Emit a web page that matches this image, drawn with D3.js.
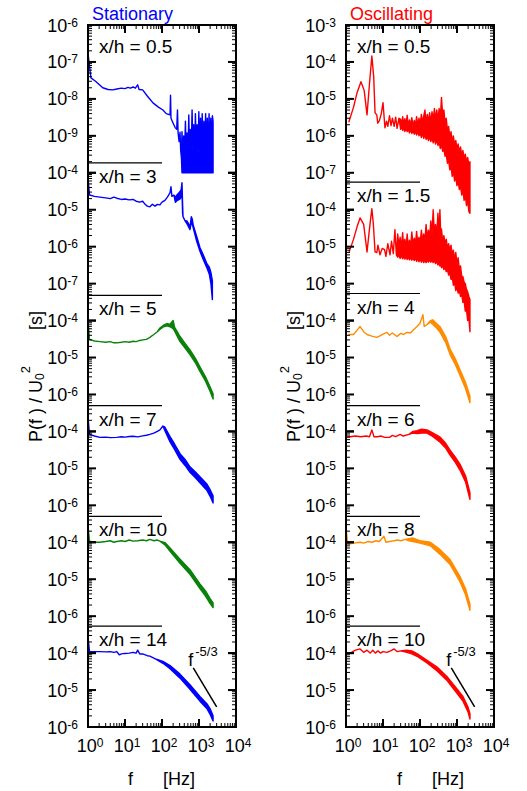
<!DOCTYPE html>
<html>
<head>
<meta charset="utf-8">
<title>Spectra, stationary vs oscillating</title>
<script src="https://cdn.jsdelivr.net/npm/d3@7/dist/d3.min.js"></script>
<style>
  body { margin: 0; background: #fff; }
  text { font-family: "Liberation Sans", Arial, Helvetica, sans-serif; fill: #000; }
</style>
</head>
<body>
<script>

// ---- data ----
// each point: [f (Hz), P/U0^2 (s)] or [f, lower, upper] where the trace is a noisy band

var freqDomain = [1, 1e4];

// panel decades: exponent at top of each sub-panel and number of decades it spans
var statTopExp = [-6, -4, -4, -4, -4, -4];
var statSpan   = [4, 4, 3, 3, 3, 2];
var oscTopExp  = [-3, -4, -4, -4, -4, -4];
var oscSpan    = [5, 3, 3, 3, 3, 2];

var statXH = ["0.5", "3", "5", "7", "10", "14"];
var oscXH  = ["0.5", "1.5", "4", "6", "8", "10"];

// level of the short divider under each panel (in that panel's units)
var statSep = [1.85e-10, 4.8e-8, 5e-7, 5e-7, 5.4e-7];
var oscSep  = [5.6e-8, 5.4e-7, 5e-7, 5e-7, 5.4e-7];

// f^-5/3 reference line, bottom panel
var slopeLine = [[700, 4e-5], [3000, 3.5e-6]];

var stat05 = [[1, 1.7e-7], [1.2, 3.7e-8], [1.6, 3.0e-8], [2.5, 2.0e-8], [3.5, 1.8e-8], [4.7, 1.75e-8],
  [6, 1.85e-8], [8, 1.95e-8], [10, 1.9e-8], [12, 2.05e-8], [14, 1.95e-8], [16.5, 2.1e-8], [19, 1.95e-8],
  [22, 2.4e-8], [24, 1.8e-8], [30, 1.75e-8], [40, 1.2e-8], [57, 7.8e-9], [80, 6.0e-9], [106, 5.0e-9],
  [130, 4.0e-9], [165, 3.7e-9], [170, 1.25e-8], [175, 3.0e-9], [200, 2.2e-9], [225, 1.7e-9], [250, 1.5e-9],
  [262, 5e-9], [272, 1.2e-9], [290, 7e-10], [307, 1.25e-9], [320, 4e-10], [335, 2.5e-10],
  [347, 1e-10, 1.3e-9], [365, 1e-10, 2e-10], [385, 1e-10, 1.0e-9], [405, 1e-10, 2.5e-10], [430, 1e-10, 2.5e-9],
  [450, 1e-10, 3e-10], [475, 1e-10, 1.2e-9], [500, 1e-10, 2.5e-10], [530, 1e-10, 3.7e-9], [555, 1e-10, 3e-10],
  [585, 1e-10, 1.5e-9], [615, 1e-10, 3e-10], [650, 1e-10, 5e-9], [685, 1e-10, 4e-10], [720, 1e-10, 2e-9],
  [760, 1e-10, 3e-10], [800, 1e-10, 4e-9], [845, 1e-10, 4e-10], [890, 1e-10, 2e-9], [940, 1e-10, 3e-10],
  [990, 1e-10, 4.5e-9], [1040, 1e-10, 4e-10], [1100, 1e-10, 3e-9], [1160, 1e-10, 3e-10], [1220, 1e-10, 4e-9],
  [1290, 1e-10, 4e-10], [1360, 1e-10, 2.5e-9], [1430, 1e-10, 3e-10], [1510, 1e-10, 4e-9], [1590, 1e-10, 4e-10],
  [1680, 1e-10, 3e-9], [1770, 1e-10, 3e-10], [1870, 1e-10, 4e-9], [1970, 1e-10, 4e-10], [2080, 1e-10, 3e-9],
  [2190, 1e-10, 3e-10], [2300, 1e-10, 3.5e-9], [2400, 1e-10, 2.5e-9]];

var stat3 = [[1, 7.2e-5], [1.1, 2.5e-5], [1.5, 2.3e-5], [2.1, 2.2e-5], [3, 2.1e-5], [4, 2.0e-5], [5, 2.2e-5],
  [6, 2.05e-5], [8, 1.9e-5], [10, 1.95e-5], [13, 1.85e-5], [16.5, 1.9e-5], [20, 1.7e-5], [25, 1.6e-5],
  [30, 1.7e-5], [35, 1.4e-5], [40, 1.25e-5], [47, 1.2e-5], [55, 1.4e-5], [65, 1.25e-5], [75, 1.4e-5],
  [88, 1.35e-5], [100, 1.6e-5], [120, 1.8e-5], [140, 2.2e-5], [165, 2.9e-5], [175, 4.2e-5], [185, 2.3e-5],
  [210, 2.5e-5], [230, 1.6e-5, 2.2e-5], [260, 1.8e-5, 2.6e-5], [300, 1.9e-5, 3e-5], [330, 2.2e-5, 3.5e-5],
  [347, 3e-5, 5.4e-5], [360, 8e-6, 1.5e-5], [370, 6.5e-6], [420, 5e-6], [470, 4.2e-6, 5e-6],
  [520, 3.5e-6, 4.2e-6], [570, 2.9e-6, 3.4e-6], [620, 4.5e-6, 6.5e-6], [660, 4e-6, 5.5e-6],
  [700, 3.2e-6, 3.8e-6], [850, 1.5e-6, 2e-6], [1060, 7.5e-7, 9.5e-7], [1300, 4.5e-7, 6e-7],
  [1650, 2.6e-7, 3.4e-7], [1900, 1.8e-7, 2.8e-7], [2100, 1e-7, 2e-7], [2300, 3.7e-8, 1.2e-7]];

var stat5 = [[1, 1.0e-4], [1.1, 3.1e-5], [1.5, 2.8e-5], [2.1, 2.7e-5], [3, 2.6e-5], [4, 2.7e-5], [5, 2.5e-5],
  [6, 2.5e-5], [8, 2.6e-5], [10, 2.7e-5], [13, 2.6e-5], [16.5, 2.75e-5], [20, 2.7e-5], [25, 2.9e-5],
  [30, 3.0e-5], [38, 3.1e-5], [47, 3.5e-5], [60, 4.2e-5], [75, 5e-5], [88, 5.8e-5, 6.3e-5],
  [110, 6.8e-5, 7.5e-5], [136, 7.2e-5, 8.3e-5], [165, 6.8e-5, 8e-5], [200, 6e-5, 1.0e-4],
  [220, 5.2e-5, 6.6e-5], [307, 2.7e-5, 3.7e-5], [420, 1.8e-5, 2.4e-5], [570, 1.2e-5, 1.6e-5],
  [800, 7.2e-6, 9.5e-6], [1060, 4.2e-6, 5.6e-6], [1500, 2.3e-6, 3.0e-6], [2000, 1.2e-6, 1.6e-6],
  [2400, 7.5e-7, 1.05e-6]];

var stat7 = [[1, 2.4e-4], [1.1, 8.3e-5], [1.5, 7.5e-5], [2.1, 6.9e-5], [3, 7e-5], [4, 6.8e-5], [6, 6.9e-5],
  [8, 7.2e-5], [10, 7e-5], [13, 7.3e-5], [16.5, 7.4e-5], [22, 7.1e-5], [30, 7.6e-5], [38, 7.9e-5],
  [47, 8.3e-5], [60, 9e-5], [75, 1.0e-4], [88, 1.1e-4], [106, 1.4e-4], [120, 1.05e-4, 1.3e-4],
  [165, 5.2e-5, 7.2e-5], [220, 3.2e-5, 4.5e-5], [307, 1.75e-5, 2.5e-5], [420, 1.2e-5, 1.75e-5],
  [570, 7.8e-6, 1.1e-5], [800, 5.6e-6, 8e-6], [1060, 4.1e-6, 5.9e-6], [1650, 2.5e-6, 3.7e-6],
  [2000, 1.75e-6, 2.65e-6], [2400, 1.15e-6, 1.8e-6]];

var stat10 = [[1, 2.7e-4], [1.1, 1.07e-4], [1.5, 1.0e-4], [2.1, 1.0e-4], [3, 1.05e-4], [4, 1.1e-4], [5, 1.0e-4],
  [6, 1.05e-4], [8, 1.1e-4], [10, 1.05e-4], [13, 1.15e-4], [16.5, 1.07e-4], [22, 1.1e-4], [30, 1.15e-4],
  [38, 1.1e-4], [47, 1.2e-4], [60, 1.1e-4], [75, 1.15e-4], [88, 1.07e-4], [120, 8.5e-5, 9.8e-5],
  [165, 5.7e-5, 7e-5], [307, 2.7e-5, 3.5e-5], [570, 1.35e-5, 1.8e-5], [1060, 5.6e-6, 7.5e-6],
  [1500, 3.5e-6, 4.8e-6], [2000, 2.2e-6, 3.0e-6], [2400, 1.7e-6, 2.3e-6]];

var stat14 = [[1, 2.7e-4], [1.1, 1.1e-4], [1.5, 1.1e-4], [2.1, 1.1e-4], [3, 1.08e-4], [4, 1.1e-4], [5, 1.05e-4],
  [6, 1.1e-4], [7, 9.0e-5], [8, 9.5e-5], [10, 9.8e-5], [13, 1.0e-4], [16.5, 1.05e-4], [20, 1.0e-4],
  [22, 1.2e-4], [25, 9.5e-5], [30, 9.5e-5], [40, 8.5e-5], [47, 8.3e-5], [70, 6.8e-5], [106, 5.3e-5, 6e-5],
  [165, 3.8e-5, 4.6e-5], [307, 2.1e-5, 2.7e-5], [570, 1.05e-5, 1.4e-5], [1060, 5e-6, 6.7e-6],
  [1650, 3.1e-6, 4.2e-6], [2000, 2.2e-6, 3.1e-6], [2400, 1.45e-6, 2.0e-6]];

var osc05 = [[1.2, 2.4e-6], [1.6, 6e-6], [2.0, 1.5e-5], [2.54, 2.9e-5], [3.1, 1.7e-5], [3.7, 3.7e-6],
  [4.3, 2.5e-5], [5.0, 1.45e-4], [5.6, 4e-5], [6.1, 4.2e-6], [6.8, 3.7e-6], [7.2, 2.2e-6], [8, 2.6e-6],
  [9, 4e-6], [10, 7.9e-6], [11.3, 1.66e-6], [12.5, 2.5e-6], [13.5, 1.8e-6], [15, 3.5e-6], [16.5, 1.9e-6],
  [18, 3.0e-6], [20, 1.8e-6], [22, 3.2e-6], [24, 1.6e-6], [27, 3.0e-6],
  [30, 1.5e-6, 2.8e-6], [32, 1.8e-6, 2.0e-6], [34, 1.4e-6, 3.3e-6], [36, 1.7e-6, 2.1e-6], [39, 1.3e-6, 2.9e-6],
  [42, 1.6e-6, 2.0e-6], [45, 1.3e-6, 3.6e-6], [48, 1.5e-6, 1.9e-6], [52, 1.2e-6, 2.7e-6], [56, 1.5e-6, 1.9e-6],
  [60, 1.15e-6, 3.1e-6], [65, 1.4e-6, 1.8e-6], [70, 1.1e-6, 2.6e-6], [75, 1.35e-6, 1.9e-6], [81, 1.05e-6, 3.3e-6],
  [87, 1.3e-6, 1.8e-6], [94, 1.0e-6, 3.0e-6], [101, 1.2e-6, 2.0e-6], [109, 9e-7, 3.8e-6], [117, 1.2e-6, 2.2e-6],
  [126, 8.5e-7, 3.4e-6], [136, 1.1e-6, 5.0e-6], [146, 8e-7, 2.2e-6], [157, 1.0e-6, 3.8e-6], [169, 7.5e-7, 2.4e-6],
  [182, 9.5e-7, 4.2e-6], [196, 7e-7, 2.2e-6], [211, 9e-7, 4.5e-6], [227, 6.5e-7, 2.5e-6], [245, 8.5e-7, 5.5e-6],
  [263, 6e-7, 2.8e-6], [284, 8e-7, 5.0e-6], [305, 5.5e-7, 2.6e-6], [329, 7e-7, 5.5e-6], [354, 4.5e-7, 3.0e-6],
  [381, 6e-7, 1.1e-5], [410, 3.8e-7, 3.5e-6], [442, 4.5e-7, 5.0e-6], [476, 2.8e-7, 2.2e-6], [512, 3.2e-7, 3.0e-6],
  [552, 1.8e-7, 1.4e-6], [594, 2.2e-7, 1.8e-6], [640, 1.2e-7, 9e-7], [689, 1.5e-7, 1.3e-6], [742, 8e-8, 7e-7],
  [799, 1.1e-7, 1.0e-6], [860, 6e-8, 5.5e-7], [926, 8e-8, 7.5e-7], [997, 4.5e-8, 4.5e-7], [1074, 6e-8, 6e-7],
  [1156, 3.5e-8, 3.5e-7], [1245, 4.5e-8, 5e-7], [1341, 2.5e-8, 3e-7], [1444, 3.5e-8, 4e-7],
  [1555, 1.8e-8, 2.5e-7], [1674, 2.5e-8, 3.2e-7], [1803, 1.3e-8, 2e-7], [1941, 1.8e-8, 2.6e-7],
  [2090, 9e-9, 1.6e-7], [2240, 8e-9, 2e-7]];

var osc15 = [[1.2, 6.9e-6], [1.6, 1.6e-5], [2.0, 3.5e-5], [2.4, 6e-5], [3.0, 4e-5], [3.7, 7.2e-6], [4.3, 3e-5],
  [5.0, 1.07e-4], [5.5, 4e-5], [6.1, 7.2e-6], [6.8, 6.9e-6], [7.3, 1.1e-5], [8.3, 6e-6], [9.5, 9e-6],
  [11, 8.3e-6], [12, 5.5e-6], [13.5, 1.2e-5], [15.5, 6e-6], [17, 1.4e-5], [19, 6.5e-6], [21, 2.9e-5],
  [23, 6e-6], [25, 5.2e-6, 2.2e-5], [27, 6e-6, 1.0e-5], [29, 4.8e-6, 1.8e-5], [31, 5.8e-6, 9e-6],
  [34, 4.7e-6, 2.4e-5], [36, 5.6e-6, 1.0e-5], [39, 4.6e-6, 1.6e-5], [42, 5.5e-6, 9e-6], [45, 4.5e-6, 2.2e-5],
  [48, 5.3e-6, 1.0e-5], [52, 4.4e-6, 1.5e-5], [56, 5.2e-6, 1.0e-5], [60, 4.3e-6, 2.5e-5], [65, 5e-6, 1.1e-5],
  [70, 4.2e-6, 1.7e-5], [75, 5e-6, 1.1e-5], [81, 4.0e-6, 2.6e-5], [87, 4.8e-6, 1.2e-5], [94, 3.9e-6, 1.8e-5],
  [101, 4.6e-6, 1.2e-5], [109, 3.8e-6, 2.8e-5], [117, 4.5e-6, 1.4e-5], [126, 3.7e-6, 2.2e-5],
  [136, 4.4e-6, 1.5e-5], [146, 3.7e-6, 4e-5], [157, 4.4e-6, 1.6e-5], [169, 3.8e-6, 2.8e-5],
  [182, 4.4e-6, 1.7e-5], [196, 3.8e-6, 5e-5], [211, 4.3e-6, 2e-5], [227, 3.7e-6, 1.0e-4], [245, 4.2e-6, 2.2e-5],
  [263, 3.5e-6, 4e-5], [284, 4e-6, 2e-5], [305, 3.2e-6, 8e-5], [329, 3.8e-6, 2e-5], [345, 3e-6, 1.0e-4],
  [365, 3.4e-6, 1.8e-5], [381, 2.7e-6, 3e-5], [410, 3e-6, 1.4e-5], [442, 2.4e-6, 2e-5], [476, 2.8e-6, 1.2e-5],
  [512, 2.1e-6, 1.6e-5], [552, 2.4e-6, 9e-6], [594, 1.7e-6, 1.2e-5], [640, 2e-6, 8e-6], [689, 1.3e-6, 1.1e-5],
  [742, 1.5e-6, 6e-6], [799, 9e-7, 8e-6], [860, 1.1e-6, 4.5e-6], [926, 6.5e-7, 7e-6], [997, 8e-7, 3.5e-6],
  [1074, 5.5e-7, 5e-6], [1156, 6.5e-7, 2.5e-6], [1245, 4.5e-7, 3e-6], [1341, 5e-7, 1.6e-6],
  [1444, 3.1e-7, 1.55e-6], [1555, 3.5e-7, 1.1e-6], [1674, 1.8e-7, 1.0e-6], [1803, 2e-7, 7e-7],
  [1941, 1e-7, 6e-7], [2090, 1.2e-7, 4.5e-7], [2240, 5e-8, 3.7e-7]];

var osc4 = [[1.2, 4.2e-5], [1.6, 4.2e-5], [2.0, 5.5e-5], [2.4, 6.9e-5], [3.0, 5e-5], [3.7, 4.2e-5], [5, 3.8e-5],
  [6.8, 3.5e-5], [8, 3.8e-5], [10, 4.3e-5], [12.8, 4.8e-5], [15, 4e-5], [18, 4.6e-5], [24, 3.7e-5],
  [30, 4.5e-5], [36, 4.2e-5], [44, 4.8e-5], [55, 4.6e-5], [65, 5.5e-5], [83, 6.9e-5], [100, 8.5e-5],
  [120, 1.45e-4], [130, 6.9e-5], [160, 8e-5], [190, 9e-5, 1.0e-4], [220, 8e-5, 1.05e-4],
  [280, 6.3e-5, 8.3e-5], [350, 4.8e-5, 6.8e-5], [500, 2.5e-5, 3.6e-5], [650, 1.2e-5, 1.7e-5],
  [900, 6.5e-6, 9.2e-6], [1200, 3.3e-6, 4.7e-6], [1700, 1.45e-6, 2.1e-6], [2240, 6e-7, 9e-7]];

var osc6 = [[1.0, 7.2e-5], [1.3, 7.2e-5], [1.8, 7.5e-5], [2.5, 7.2e-5], [3.5, 7.5e-5], [4.3, 7.2e-5],
  [5, 1.1e-4], [5.7, 7.2e-5], [7, 7.2e-5], [9, 7.5e-5], [11, 6.9e-5], [15, 6.9e-5], [18, 7.8e-5],
  [22, 7.2e-5], [29, 8.3e-5], [35, 7.5e-5], [50, 8.3e-5], [65, 9e-5, 1.0e-4], [83, 8.8e-5, 1.05e-4],
  [110, 9e-5, 1.15e-4], [155, 9e-5, 1.1e-4], [220, 7.3e-5, 9.2e-5], [350, 5.1e-5, 7e-5],
  [500, 3.5e-5, 4.7e-5], [650, 2.3e-5, 3.1e-5], [900, 1.45e-5, 2e-5], [1200, 9e-6, 1.3e-5],
  [1700, 4.3e-6, 6.3e-6], [2240, 1.45e-6, 2.2e-6]];

var osc8 = [[1.0, 2.6e-4], [1.1, 1.0e-4], [1.2, 9e-5], [1.6, 9.5e-5], [2.4, 1.0e-4], [3, 9.5e-5], [4, 1.05e-4],
  [5, 1.0e-4], [6.5, 1.1e-4], [8, 1.05e-4], [10.6, 1.45e-4], [12, 1.0e-4], [15, 1.05e-4], [20, 1.1e-4],
  [25, 1.15e-4], [30, 1.1e-4], [40, 1.2e-4], [50, 1.1e-4, 1.25e-4], [65, 1.05e-4, 1.3e-4],
  [80, 1.0e-4, 1.2e-4], [100, 9.5e-5, 1.1e-4], [190, 8e-5, 1.0e-4], [350, 4.7e-5, 6.3e-5],
  [650, 2.5e-5, 3.4e-5], [1200, 8.6e-6, 1.2e-5], [1700, 3.8e-6, 5.5e-6], [2240, 1.45e-6, 2.1e-6]];

var osc10 = [[1.0, 9.3e-5], [1.4, 1.05e-4], [1.8, 1.2e-4], [2.4, 1.3e-4], [3.0, 1.05e-4], [3.7, 1.2e-4],
  [4.5, 1.0e-4], [5.3, 1.2e-4], [6.2, 1.0e-4], [7.3, 1.15e-4], [8.5, 1.0e-4], [10, 1.1e-4], [12.8, 1.05e-4],
  [16, 1.15e-4], [20, 1.3e-4], [24, 1.1e-4], [30, 1.15e-4], [44, 1.05e-4, 1.2e-4], [60, 9.5e-5, 1.15e-4],
  [83, 8.2e-5, 9.7e-5], [155, 5.4e-5, 6.4e-5], [290, 3.3e-5, 4.2e-5], [540, 1.8e-5, 2.3e-5],
  [1000, 8.2e-6, 1.07e-5], [1450, 5e-6, 6.7e-6], [2000, 2.5e-6, 3.4e-6], [2240, 1.65e-6, 2.3e-6]];

// ---- layout ----
var width = 527, height = 791;
var plotTop = 25, plotBottom = 727, plotW = 148;

var BLUE = "#0000ff", GREEN = "#0a820a", RED = "#ff0000", ORANGE = "#ff8c00";

var columns = [
  { title: "Stationary", titleColor: BLUE, left: 88, ylabX: 41.5, fX: 128, hzX: 163,
    tops: statTopExp, spans: statSpan, names: statXH, seps: statSep,
    series: [stat05, stat3, stat5, stat7, stat10, stat14],
    colors: [BLUE, BLUE, GREEN, BLUE, GREEN, BLUE] },
  { title: "Oscillating", titleColor: RED, left: 346, ylabX: 300, fX: 397, hzX: 432,
    tops: oscTopExp, spans: oscSpan, names: oscXH, seps: oscSep,
    series: [osc05, osc15, osc4, osc6, osc8, osc10],
    colors: [RED, RED, ORANGE, RED, ORANGE, RED] }
];

var svg = d3.select('body')
  .append('svg')
  .attr('width', width)
  .attr('height', height);

function isDecade(v) {
  var l = Math.log10(v);
  return Math.abs(l - Math.round(l)) < 1e-6;
}

// "10" with a superscript exponent
function powText(sel, exp, supSize, supDy) {
  sel.append('tspan').text('10');
  sel.append('tspan').attr('font-size', supSize).attr('dy', supDy).text(exp);
}

columns.forEach(function(col, ci) {
  var x = d3.scaleLog().domain(freqDomain).range([col.left, col.left + plotW]);
  var nDec = d3.sum(col.spans);
  var pos = d3.scaleLinear().domain([0, nDec]).range([plotTop, plotBottom]);

  var acc = 0;
  var ys = col.spans.map(function(n, i) {
    var y = d3.scaleLog()
      .domain([Math.pow(10, col.tops[i]), Math.pow(10, col.tops[i] - n)])
      .range([pos(acc), pos(acc + n)]);
    acc += n;
    return y;
  });

  svg.append('clipPath').attr('id', 'clip' + ci)
    .append('rect')
    .attr('x', col.left).attr('y', plotTop)
    .attr('width', plotW).attr('height', plotBottom - plotTop);

  var curves = svg.append('g').attr('clip-path', 'url(#clip' + ci + ')');

  col.series.forEach(function(data, i) {
    var y = ys[i];
    var band = d3.area()
      .x(function(d) { return x(d[0]); })
      .y0(function(d) { return y(d[1]); })
      .y1(function(d) { return y(d.length > 2 ? d[2] : d[1]); });
    curves.append('path')
      .attr('d', band(data))
      .attr('fill', col.colors[i])
      .attr('stroke', col.colors[i])
      .attr('stroke-width', 1.4)
      .attr('stroke-linejoin', 'round');
  });

  // dividers and x/h labels
  col.names.forEach(function(name, i) {
    var baseY;
    if (i === 0) {
      baseY = plotTop + 28;
    } else {
      var sy = ys[i - 1](col.seps[i - 1]);
      svg.append('line')
        .attr('x1', x(1)).attr('x2', x(100))
        .attr('y1', sy).attr('y2', sy)
        .attr('stroke', '#000').attr('stroke-width', 1.2);
      baseY = sy + 20;
    }
    svg.append('text')
      .attr('x', col.left + 11).attr('y', baseY)
      .attr('font-size', 19)
      .text('x/h = ' + name);
  });

  // f^-5/3 line in bottom panel
  var yb = ys[ys.length - 1];
  var p0 = [x(slopeLine[0][0]), yb(slopeLine[0][1])];
  var p1 = [x(slopeLine[1][0]), yb(slopeLine[1][1])];
  svg.append('line')
    .attr('x1', p0[0]).attr('y1', p0[1]).attr('x2', p1[0]).attr('y2', p1[1])
    .attr('stroke', '#000').attr('stroke-width', 1.5);
  var ft = svg.append('text').attr('x', p0[0] - 5).attr('y', p0[1] - 2).attr('font-size', 18);
  ft.append('tspan').text('f');
  ft.append('tspan').attr('dx', 2).attr('dy', -10).attr('font-size', 13).text('-5/3');

  // frame
  svg.append('rect')
    .attr('x', col.left).attr('y', plotTop)
    .attr('width', plotW).attr('height', plotBottom - plotTop)
    .attr('fill', 'none').attr('stroke', '#000').attr('stroke-width', 2);

  var ticks = svg.append('g').attr('stroke', '#000');

  // y ticks and labels
  ys.forEach(function(y, i) {
    var last = i === ys.length - 1;
    y.ticks().forEach(function(v) {
      var major = isDecade(v);
      var len = major ? 8 : 4;
      var ty = y(v);
      ticks.append('line').attr('x1', col.left).attr('x2', col.left + len)
        .attr('y1', ty).attr('y2', ty).attr('stroke-width', major ? 2 : 1);
      ticks.append('line').attr('x1', col.left + plotW).attr('x2', col.left + plotW - len)
        .attr('y1', ty).attr('y2', ty).attr('stroke-width', major ? 2 : 1);
      if (major && (last || v > y.domain()[1] * 1.5)) {
        var t = svg.append('text')
          .attr('x', col.left - 10).attr('y', ty + 6.5)
          .attr('text-anchor', 'end').attr('font-size', 18);
        powText(t, String(Math.round(Math.log10(v))), 12, -5);
      }
    });
  });

  // x ticks (bottom and top) and labels
  x.ticks().forEach(function(v) {
    var major = isDecade(v);
    var len = major ? 8 : 4;
    var tx = x(v);
    ticks.append('line').attr('x1', tx).attr('x2', tx)
      .attr('y1', plotBottom).attr('y2', plotBottom - len).attr('stroke-width', major ? 2 : 1);
    ticks.append('line').attr('x1', tx).attr('x2', tx)
      .attr('y1', plotTop).attr('y2', plotTop + len).attr('stroke-width', major ? 2 : 1);
    if (major) {
      var t = svg.append('text')
        .attr('x', tx + 2).attr('y', plotBottom + 25)
        .attr('text-anchor', 'middle').attr('font-size', 18);
      powText(t, String(Math.round(Math.log10(v))), 12, -5);
    }
  });

  // titles and axis labels
  svg.append('text')
    .attr('x', col.left + 4).attr('y', 20)
    .attr('font-size', 18)
    .style('fill', col.titleColor)
    .text(col.title);

  svg.append('text').attr('x', col.fX).attr('y', 785).attr('font-size', 18).text('f');
  svg.append('text').attr('x', col.hzX).attr('y', 785).attr('font-size', 18).text('[Hz]');

  var yl = svg.append('text')
    .attr('transform', 'translate(' + col.ylabX + ',442) rotate(-90)')
    .attr('font-size', 18);
  yl.append('tspan').text('P(f ) / U');
  yl.append('tspan').attr('font-size', 12).attr('dy', 2).text('0');
  yl.append('tspan').attr('font-size', 13).attr('dy', -13.5).text('2');

  svg.append('text')
    .attr('transform', 'translate(' + col.ylabX + ',330) rotate(-90)')
    .attr('font-size', 18)
    .text('[s]');
});

</script>
</body>
</html>
